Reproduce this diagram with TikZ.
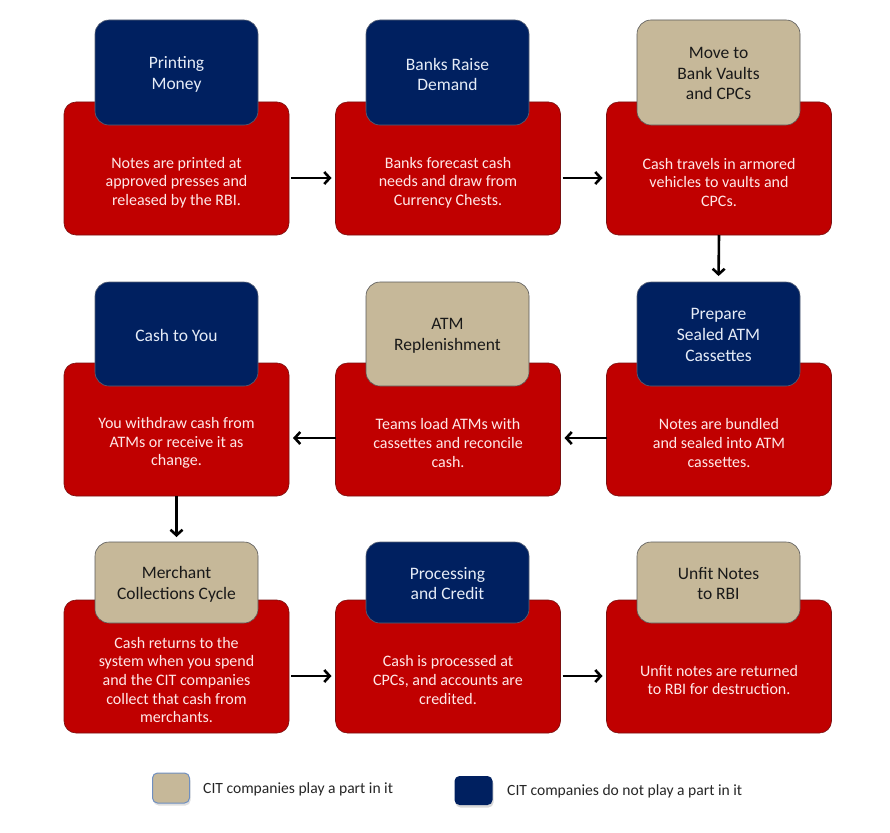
\documentclass[tikz,border=0pt]{standalone}
\usepackage{fontspec}
\setmainfont{Carlito}
\usetikzlibrary{arrows.meta,shadows}
\definecolor{boxred}{HTML}{C00000}
\definecolor{boxredline}{HTML}{7A1010}
\definecolor{navy}{HTML}{002060}
\definecolor{tan}{HTML}{C6B899}
\definecolor{redtext}{HTML}{FFE8E8}
\definecolor{navytext}{HTML}{E6ECF7}
\definecolor{legendline}{HTML}{6F8FC0}
\begin{document}
\begin{tikzpicture}[x=1pt,y=-1pt,
  redbox/.style={draw=boxredline,line width=0.6pt,fill=boxred,rounded corners=12pt,
    minimum width=225pt,minimum height=133pt,inner sep=0pt,outer sep=0pt},
  navybox/.style={draw=gray!70!navy,line width=0.6pt,fill=navy,rounded corners=14pt,
    minimum width=163pt,inner sep=0pt,outer sep=0pt,text=navytext,align=center,
    font=\fontsize{17.5}{20.7}\selectfont},
  tanbox/.style={draw=black!65,line width=0.6pt,fill=tan,rounded corners=14pt,
    minimum width=163pt,inner sep=0pt,outer sep=0pt,text=black!90,align=center,
    font=\fontsize{17.5}{20.7}\selectfont},
  toptext/.style={inner sep=0pt,align=center,font=\fontsize{17.5}{20.7}\selectfont},
  redlabel/.style={text=redtext,align=center,inner sep=0pt,
    font=\fontsize{16}{18.7}\selectfont},
  legendtext/.style={text=black!85,anchor=west,inner sep=0pt,
    font=\fontsize{15.6}{19}\selectfont},
  arr/.style={-{Straight Barb[length=5.5pt,width=12pt,line width=2.6pt]},line width=2.6pt,black},
]
\useasboundingbox (0,0) rectangle (890,832);
\fill[white] (0,0) rectangle (890,832);

% red boxes
\node[redbox] (r1) at (176.5,168.5) {};
\node[redbox] (r2) at (448,168.5) {};
\node[redbox] (r3) at (719,168.5) {};
\node[redbox] (r4) at (719,429.5) {};
\node[redbox] (r5) at (448,429.5) {};
\node[redbox] (r6) at (176.5,429.5) {};
\node[redbox] (r7) at (176.5,666.5) {};
\node[redbox] (r8) at (448,666.5) {};
\node[redbox] (r9) at (719,666.5) {};

% top boxes
\node[navybox,minimum height=105pt] (t1) at (176.5,72.5) {};
\node[navybox,minimum height=105pt] (t2) at (447.5,72.5) {};
\node[tanbox,minimum height=105pt] (t3) at (718.5,72.5) {};
\node[navybox,minimum height=104pt] (t4) at (718.5,334) {};
\node[tanbox,minimum height=104pt] (t5) at (447.5,334) {};
\node[navybox,minimum height=104pt] (t6) at (176.5,334) {};
\node[tanbox,minimum height=81pt] (t7) at (176.5,582.5) {};
\node[navybox,minimum height=81pt] (t8) at (447.5,582.5) {};
\node[tanbox,minimum height=81pt] (t9) at (718.5,582.5) {};

% top box texts
\node[toptext,text=navytext] (h1) at ([yshift=-2pt]t1.center) {Printing\\Money};
\node[toptext,text=navytext] (h2) at ([yshift=-2pt]t2.center) {Banks Raise\\Demand};
\node[toptext,text=black!90] (h3) at ([yshift=-1pt]t3.center) {Move to\\Bank Vaults\\and CPCs};
\node[toptext,text=navytext] (h4) at ([yshift=-1pt]t4.center) {Prepare\\Sealed ATM\\Cassettes};
\node[toptext,text=black!90] (h5) at ([yshift=-2pt]t5.center) {ATM\\Replenishment};
\node[toptext,text=navytext] (h6) at ([yshift=-1.5pt]t6.center) {Cash to You};
\node[toptext,text=black!90] (h7) at ([yshift=-1.5pt]t7.center) {Merchant\\Collections Cycle};
\node[toptext,text=navytext] (h8) at ([yshift=-1pt]t8.center) {Processing\\and Credit};
\node[toptext,text=black!90] (h9) at ([yshift=-1pt]t9.center) {Unfit Notes\\to RBI};

% red box texts
\node[redlabel] (d1) at (176.5,182.5) {Notes are printed at\\approved presses and\\released by the RBI.};
\node[redlabel] (d2) at (448,182.5) {Banks forecast cash\\needs and draw from\\Currency Chests.};
\node[redlabel] (d3) at (719,182.5) {Cash travels in armored\\vehicles to vaults and\\CPCs.};
\node[redlabel] (d4) at (719,443) {Notes are bundled\\and sealed into ATM\\cassettes.};
\node[redlabel] (d5) at (448,443) {Teams load ATMs with\\cassettes and reconcile\\cash.};
\node[redlabel] (d6) at (176.5,443) {You withdraw cash from\\ATMs or receive it as\\change.};
\node[redlabel] (d7) at (176.5,680) {Cash returns to the\\system when you spend\\and the CIT companies\\collect that cash from\\merchants.};
\node[redlabel] (d8) at (448,680) {Cash is processed at\\CPCs, and accounts are\\credited.};
\node[redlabel] (d9) at (719,680) {Unfit notes are returned\\to RBI for destruction.};

% connectors
\draw[arr,shorten <=2pt,shorten >=4pt] ([yshift=-9.5pt]r1.east) -- ([yshift=-9.5pt]r2.west);
\draw[arr,shorten <=2pt,shorten >=4pt] ([yshift=-9.5pt]r2.east) -- ([yshift=-9.5pt]r3.west);
\draw[arr,shorten >=6pt] (r3.south) -- (t4.north);
\draw[arr,shorten >=4pt] ([yshift=-8.5pt]r4.west) -- ([yshift=-8.5pt]r5.east);
\draw[arr,shorten >=4pt] ([yshift=-8.5pt]r5.west) -- ([yshift=-8.5pt]r6.east);
\draw[arr,shorten >=5pt] (r6.south) -- (t7.north);
\draw[arr,shorten <=2pt,shorten >=4pt] ([yshift=-9.5pt]r7.east) -- ([yshift=-9.5pt]r8.west);
\draw[arr,shorten <=2pt,shorten >=4pt] ([yshift=-9.5pt]r8.east) -- ([yshift=-9.5pt]r9.west);

% legend
\node[draw=legendline,line width=1pt,fill=tan,rounded corners=5pt,minimum width=37pt,
  minimum height=30pt,inner sep=0pt,
  drop shadow={opacity=0.25,shadow xshift=1pt,shadow yshift=-2.5pt}] (lg1) at (171,788) {};
\node[legendtext] (lt1) at (203,789) {CIT companies play a part in it};
\node[fill=navy,rounded corners=5pt,minimum width=38pt,minimum height=29pt,inner sep=0pt,
  drop shadow={opacity=0.3,shadow xshift=1pt,shadow yshift=-2.5pt}] (lg2) at (473.5,790.5) {};
\node[legendtext] (lt2) at (507,791) {CIT companies do not play a part in it};
\end{tikzpicture}
\end{document}
